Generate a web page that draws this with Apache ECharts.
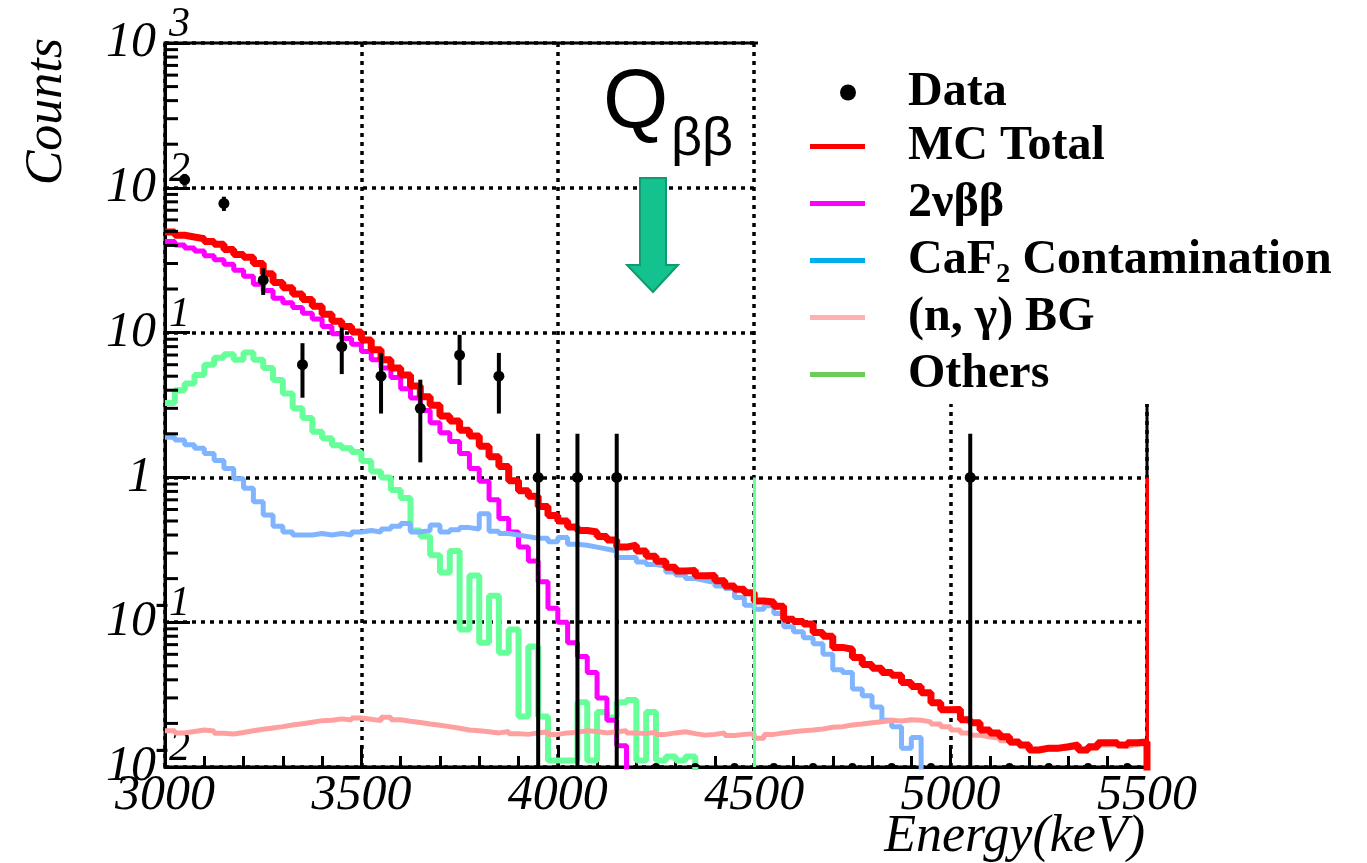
<!DOCTYPE html>
<html lang="en">
<head>
<meta charset="UTF-8">
<title>Energy spectrum around Q_bb</title>
<script src="https://cdn.jsdelivr.net/npm/echarts@6/dist/echarts.min.js"></script>
<style>
  html, body { margin: 0; padding: 0; background: #fff; }
  #main { width: 1367px; height: 863px; }
</style>
</head>
<body>
<div id="main"></div>
<script>
// axis ranges, 25 keV bins for MC, 100 keV bins for data
var E_MIN = 3000, E_MAX = 5500, BIN = 25;
var Y_MIN = 0.01, Y_MAX = 1000;
var BELOW_FLOOR = 0.008;  // empty bins are drawn just under the frame, like ROOT does
var EDGE_LEVEL = 1;       // height of the stray edge lines at 4500 and 5500

// MC histograms, one value per 25 keV bin (3000 -> 5500)
var mcTotal = [
  49.5, 47.0, 45.7, 44.5, 42.6, 40.7, 37.5, 34.6, 33.1, 30.0,
  25.5, 22.2, 20.4, 18.5, 16.9, 15.2, 13.4, 12.0, 11.0, 10.1,
  8.9, 7.6, 6.5, 5.7, 5.1, 4.28, 3.6, 3.15, 2.65, 2.45,
  2.12, 1.93, 1.64, 1.39, 1.19, 0.95, 0.81, 0.74, 0.63, 0.545,
  0.50, 0.455, 0.43, 0.42, 0.39, 0.37, 0.33, 0.34, 0.31, 0.285,
  0.264, 0.24, 0.226, 0.228, 0.209, 0.21, 0.193, 0.178, 0.169, 0.16,
  0.14, 0.138, 0.129, 0.105, 0.101, 0.097, 0.085, 0.08, 0.067, 0.065,
  0.057, 0.051, 0.048, 0.045, 0.043, 0.0383, 0.036, 0.0326, 0.0278, 0.0249,
  0.025, 0.0212, 0.0202, 0.018, 0.0172, 0.0162, 0.0149, 0.0142, 0.0131, 0.0135,
  0.0135, 0.0138, 0.0142, 0.0131, 0.0138, 0.0147, 0.0147, 0.0142, 0.0147, 0.0149
];
var twoNu = [
  42.6, 40.3, 38.4, 36.6, 34.0, 31.8, 29.6, 26.9, 24.5, 21.6,
  19.5, 17.3, 16.1, 14.9, 13.6, 12.4, 11.0, 9.8, 9.1, 8.3,
  7.4, 6.5, 5.7, 4.9, 4.1, 3.53, 2.9, 2.38, 2.03, 1.77,
  1.46, 1.15, 0.94, 0.70, 0.52, 0.42, 0.33, 0.265, 0.19, 0.125,
  0.10, 0.072, 0.058, 0.045, 0.03, 0.021, 0.014, 0, 0, 0,
  0, 0, 0, 0, 0, 0, 0, 0, 0, 0,
  0, 0, 0, 0, 0, 0, 0, 0, 0, 0,
  0, 0, 0, 0, 0, 0, 0, 0, 0, 0,
  0, 0, 0, 0, 0, 0, 0, 0, 0, 0,
  0, 0, 0, 0, 0, 0, 0, 0, 0, 0
];
var caf2 = [
  1.89, 1.81, 1.68, 1.59, 1.46, 1.31, 1.15, 0.98, 0.84, 0.68,
  0.55, 0.46, 0.42, 0.40, 0.40, 0.41, 0.40, 0.41, 0.40, 0.42,
  0.43, 0.42, 0.44, 0.46, 0.48, 0.42, 0.43, 0.47, 0.42, 0.435,
  0.45, 0.44, 0.56, 0.425, 0.41, 0.40, 0.39, 0.38, 0.38, 0.36,
  0.385, 0.345, 0.34, 0.33, 0.32, 0.31, 0.28, 0.28, 0.26, 0.25,
  0.243, 0.222, 0.212, 0.2, 0.194, 0.188, 0.178, 0.171, 0.148, 0.131,
  0.123, 0.13, 0.115, 0.093, 0.086, 0.078, 0.071, 0.060, 0.047, 0.045,
  0.0345, 0.031, 0.026, 0.021, 0.019, 0.0135, 0.016, 0, 0, 0,
  0, 0, 0, 0, 0, 0, 0, 0, 0, 0,
  0, 0, 0, 0, 0, 0, 0, 0, 0, 0
];
var nGamma = [
  0.0178, 0.0172, 0.0176, 0.0180, 0.0177, 0.0171, 0.0169, 0.0173, 0.0178, 0.0182,
  0.0186, 0.019, 0.0195, 0.0199, 0.0204, 0.0209, 0.021, 0.0215, 0.0211, 0.0218,
  0.0214, 0.0209, 0.0221, 0.0212, 0.0207, 0.0203, 0.0198, 0.0194, 0.019, 0.0185,
  0.018, 0.0178, 0.0175, 0.0172, 0.0176, 0.017, 0.0168, 0.0172, 0.0175, 0.0168,
  0.0172, 0.0174, 0.0178, 0.0176, 0.0172, 0.0175, 0.0178, 0.0172, 0.017, 0.0174,
  0.0168, 0.0172, 0.0175, 0.017, 0.0166, 0.0168, 0.0172, 0.0165, 0.0168, 0.017,
  0.0158, 0.0168, 0.0172, 0.0175, 0.0178, 0.018, 0.0183, 0.0188, 0.019, 0.0195,
  0.0198, 0.0202, 0.0205, 0.021, 0.0208, 0.0212, 0.021, 0.0205, 0.0198, 0.019,
  0.018, 0.0172, 0.0166, 0.0161, 0.0158, 0.0152, 0.0146, 0.014, 0.013, 0.0133,
  0.0133, 0.0135, 0.0138, 0.013, 0.0135, 0.0142, 0.0143, 0.0139, 0.0143, 0.0145
];
var others = [
  3.27, 4.0, 4.45, 5.1, 6.0, 6.7, 7.1, 6.5, 7.3, 6.5,
  5.7, 4.7, 3.8, 3.0, 2.57, 2.07, 1.86, 1.67, 1.59, 1.5,
  1.3, 1.1, 1.0, 0.82, 0.72, 0.43, 0.39, 0.29, 0.22, 0.31,
  0.089, 0.21, 0.072, 0.152, 0.0615, 0.089, 0.0223, 0.068, 0.0223, 0.0111,
  0.0111, 0.0111, 0.028, 0.0111, 0.024, 0.022, 0.028, 0.029, 0.0111, 0.024,
  0.0111, 0.0118, 0.0111, 0.0118, 0, 0, 0, 0, 0, 0,
  0, 0, 0, 0, 0, 0, 0, 0, 0, 0,
  0, 0, 0, 0, 0, 0, 0, 0, 0, 0,
  0, 0, 0, 0, 0, 0, 0, 0, 0, 0,
  0, 0, 0, 0, 0, 0, 0, 0, 0, 0
];

// measured data, 100 keV bins
var dataCenters = [3050, 3150, 3250, 3350, 3450, 3550, 3650, 3750, 3850, 3950,
                   4050, 4150, 4250, 4350, 4450, 4550, 4650, 4750, 4850, 4950,
                   5050, 5150, 5250, 5350, 5450];
var dataCounts = [114, 78, 23, 6, 8, 5, 3, 7, 5, 1,
                  1, 1, 0, 0, 0, 0, 0, 0, 0, 0,
                  1, 0, 0, 0, 0];
var dataErr = [10.7, 8.8, 4.8, 2.45, 2.83, 2.24, 1.73, 2.65, 2.24, 1,
               1, 1, 0, 0, 0, 0, 0, 0, 0, 0,
               1, 0, 0, 0, 0];

var SERIF = "'Liberation Serif', 'Times New Roman', 'DejaVu Serif', serif";
var SANS = "'Liberation Sans', Arial, 'DejaVu Sans', sans-serif";

// step outline of a ROOT-style histogram
function histLine(values) {
  var pts = [];
  for (var i = 0; i < values.length; i++) {
    pts.push([E_MIN + i * BIN, values[i] > 0 ? values[i] : BELOW_FLOOR]);
  }
  var last = values[values.length - 1];
  pts.push([E_MAX, last > 0 ? last : BELOW_FLOOR]);
  pts.push([E_MAX, BELOW_FLOOR]);
  return pts;
}

function edgeLine(x, color) {
  return {
    silent: true,
    symbol: ['none', 'none'],
    label: { show: false },
    lineStyle: { color: color, width: 3, type: 'solid' },
    data: [[{ coord: [x, Y_MIN] }, { coord: [x, EDGE_LEVEL] }]]
  };
}

function histSeries(name, values, color, width, extra) {
  var s = {
    name: name,
    type: 'line',
    step: 'end',
    symbol: 'none',
    showSymbol: false,
    silent: true,
    z: 3,
    data: histLine(values),
    lineStyle: { color: color, width: width },
    itemStyle: { color: color }
  };
  if (extra) s.markLine = extra;
  return s;
}

// 2..9 x 10^k minor ticks for the log axis
var minorTickValues = [];
for (var k = -2; k < 3; k++) {
  for (var m = 2; m <= 9; m++) minorTickValues.push(m * Math.pow(10, k));
}

var legendText = {
  fontFamily: SERIF,
  fontWeight: 'bold',
  fontSize: 48,
  lineHeight: 57,
  color: '#000'
};
var gridDots = { color: '#000', width: 3.5, type: [4, 5] };

var chart = echarts.init(document.getElementById('main'));

var option = {
  animation: false,
  backgroundColor: '#fff',
  grid: {
    left: 165, top: 43, right: 220, bottom: 96,
    show: true, borderColor: '#000', borderWidth: 3,
    outerBoundsMode: 'none'
  },
  xAxis: {
    type: 'value',
    min: E_MIN, max: E_MAX, interval: 500,
    axisLine: { lineStyle: { color: '#000', width: 3 } },
    axisTick: { inside: true, length: 22, lineStyle: { color: '#000', width: 3 } },
    minorTick: { show: true, splitNumber: 5, length: 11, lineStyle: { color: '#000', width: 3 } },
    splitLine: { show: true, lineStyle: gridDots },
    axisLabel: {
      margin: 4, color: '#000',
      fontFamily: SERIF, fontStyle: 'italic', fontSize: 50, lineHeight: 50,
      formatter: function (v) { return String(v); }
    },
    name: 'Energy(keV)',
    nameLocation: 'end',
    nameGap: -2,
    nameMoveOverlap: false,
    nameTextStyle: {
      fontFamily: SERIF, fontStyle: 'italic', fontSize: 52, lineHeight: 52, color: '#000',
      align: 'right', verticalAlign: 'top', padding: [44, 0, 0, 0]
    }
  },
  yAxis: {
    type: 'log',
    logBase: 10,
    min: Y_MIN, max: Y_MAX,
    axisLine: { show: true, lineStyle: { color: '#000', width: 3 } },
    axisTick: { show: true, inside: true, length: 25, lineStyle: { color: '#000', width: 3 } },
    splitLine: { show: true, lineStyle: gridDots },
    axisLabel: {
      // ROOT style 10^n: exponent on a short first line, mantissa below it
      margin: -25,
      padding: [0, 0, 26, 0],
      formatter: function (v) {
        var e = Math.round(Math.log(v) / Math.LN10);
        if (e === 0) return '{u| }\n{b|1}{g1| }';
        return '{s|' + e + '}\n{b|10}{g| }';
      },
      rich: {
        s: { fontFamily: SERIF, fontStyle: 'italic', fontSize: 42, lineHeight: 26, color: '#000', align: 'right' },
        u: { fontSize: 42, lineHeight: 26, align: 'right' },
        b: { fontFamily: SERIF, fontStyle: 'italic', fontSize: 50, lineHeight: 10, color: '#000', align: 'right' },
        g: { fontSize: 42, lineHeight: 10, width: 34, align: 'right' },
        g1: { fontSize: 42, lineHeight: 10, width: 38, align: 'right' }
      }
    },
    name: 'Counts',
    nameLocation: 'end',
    nameRotate: 90,
    nameGap: 5,
    nameMoveOverlap: false,
    nameTextStyle: {
      fontFamily: SERIF, fontStyle: 'italic', fontSize: 52, lineHeight: 52, color: '#000',
      align: 'right', verticalAlign: 'bottom', padding: [0, 0, 92, 0]
    }
  },
  legend: [
    {
      data: [{ name: 'Data', icon: 'circle', itemStyle: { color: '#000' } }],
      left: 840, top: 64, padding: 0,
      itemWidth: 16, itemHeight: 16,
      selectedMode: false, z: 10,
      textStyle: Object.assign({ padding: [0, 0, 0, 47] }, legendText)
    },
    {
      data: [
        { name: 'MC Total', icon: 'rect', itemStyle: { color: '#ff0000' } },
        { name: '2νββ', icon: 'rect', itemStyle: { color: '#ff00ff' } },
        { name: 'CaF₂ Contamination', icon: 'rect', itemStyle: { color: '#00aef0' } },
        { name: '(n, γ) BG', icon: 'rect', itemStyle: { color: '#ffb0b0' } },
        { name: 'Others', icon: 'rect', itemStyle: { color: '#6ccc55' } }
      ],
      orient: 'vertical',
      left: 810, top: 118, padding: 0,
      itemWidth: 55, itemHeight: 5, itemGap: 0,
      selectedMode: false, z: 10,
      textStyle: Object.assign({ padding: [0, 0, 0, 38] }, legendText)
    }
  ],
  graphic: [
    // white legend pad hides frame and grid behind the legend, as in the original
    { type: 'rect', z: 5, silent: true, shape: { x: 758, y: 0, width: 609, height: 404 }, style: { fill: '#fff' } },
    { type: 'text', z: 10, x: 603, y: 104, style: { text: 'Q', font: '84px ' + SANS, fill: '#000', verticalAlign: 'middle' } },
    { type: 'text', z: 10, x: 671, y: 140, style: { text: 'ββ', font: '54px ' + SANS, fill: '#000', verticalAlign: 'middle' } },
    {
      type: 'polygon', z: 10, silent: true,
      shape: { points: [[640, 178], [666, 178], [666, 265], [678, 265], [653, 292], [627, 265], [640, 265]] },
      style: { fill: '#14c28f', stroke: '#0f9a70', lineWidth: 2 }
    }
  ],
  series: [
    histSeries('Others', others, '#66ff99', 6, edgeLine(4500, '#66ff99')),
    histSeries('2νββ', twoNu, '#ff00ff', 5),
    histSeries('CaF₂ Contamination', caf2, '#80b4ff', 5),
    histSeries('(n, γ) BG', nGamma, '#ffa0a0', 5),
    histSeries('MC Total', mcTotal, '#ff0000', 7, edgeLine(E_MAX, '#ff0000')),
    {
      name: 'Data',
      type: 'custom',
      z: 4,
      silent: true,
      clip: true,
      itemStyle: { color: '#000' },
      data: dataCenters.map(function (x, i) {
        return [x, Math.max(dataCounts[i], Y_MIN), dataCounts[i], dataErr[i]];
      }),
      encode: { x: 0, y: 1 },
      renderItem: function (params, api) {
        var x = api.value(0), n = api.value(2), err = api.value(3);
        var kids = [];
        if (n > 0) {
          var lo = api.coord([x, Math.max(n - err, Y_MIN)]);
          var hi = api.coord([x, n + err]);
          kids.push({ type: 'line', shape: { x1: lo[0], y1: lo[1], x2: hi[0], y2: hi[1] },
                      style: { stroke: '#000', lineWidth: 4 } });
        }
        var c = api.coord([x, api.value(1)]);
        kids.push({ type: 'circle', shape: { cx: c[0], cy: c[1], r: n > 0 ? 5.5 : 4 },
                    style: { fill: '#000' } });
        return { type: 'group', children: kids };
      }
    },
    {
      name: 'yMinorTicks',
      type: 'custom',
      z: 4,
      silent: true,
      data: minorTickValues.map(function (v) { return [E_MIN, v]; }),
      encode: { x: 0, y: 1 },
      renderItem: function (params, api) {
        var p = api.coord([api.value(0), api.value(1)]);
        return { type: 'line', shape: { x1: p[0], y1: p[1], x2: p[0] + 13, y2: p[1] },
                 style: { stroke: '#000', lineWidth: 3 } };
      }
    }
  ]
};

chart.setOption(option);
</script>
</body>
</html>
